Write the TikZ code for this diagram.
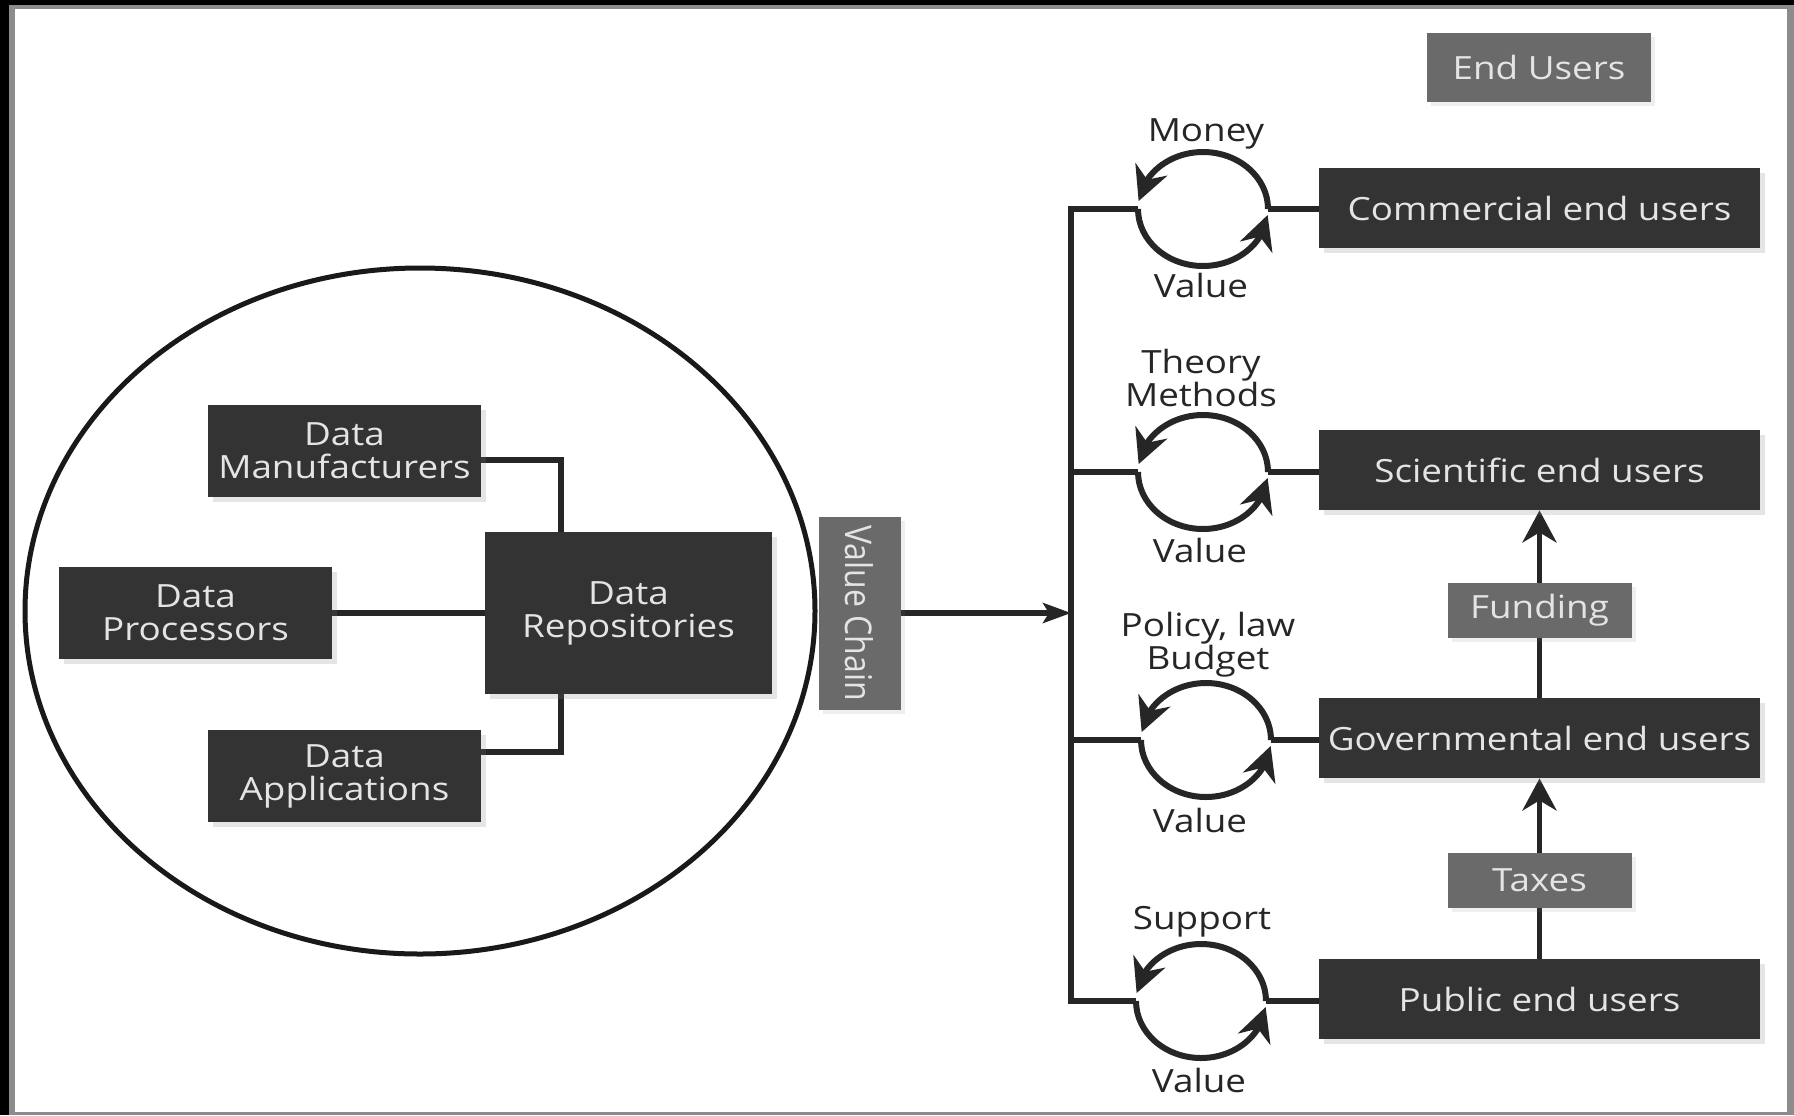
\documentclass[tikz,border=0pt]{standalone}
\usepackage{fontspec}
\usepackage{graphicx}
\setmainfont[FakeStretch=1.15]{Open Sans}
\newfontfamily\vcfont{Open Sans}
\usetikzlibrary{arrows.meta,bending,shadows,calc}
\definecolor{boxdark}{HTML}{333333}
\definecolor{boxgray}{HTML}{6A6A6A}
\definecolor{boxtext}{HTML}{E4E4E4}
\definecolor{ink}{HTML}{262626}
\definecolor{framegray}{HTML}{8C8C8C}
\pgfdeclarelayer{frame}
\pgfdeclarelayer{back}
\pgfsetlayers{frame,back,main}
\begin{document}
\begin{tikzpicture}[x=0.5pt,y=-0.5pt,
  font=\fontsize{16}{16.5}\selectfont,
  darkbox/.style={fill=boxdark,text=boxtext,inner sep=0pt,align=center,
    drop shadow={shadow xshift=2.5pt,shadow yshift=-2.5pt,opacity=0.2}},
  graybox/.style={fill=boxgray,text=boxtext,inner sep=0pt,align=center,
    drop shadow={shadow xshift=2pt,shadow yshift=-2pt,opacity=0.12}},
  leftbox/.style={darkbox,minimum width=136.5pt,minimum height=46pt},
  rightbox/.style={darkbox,minimum width=220.5pt,minimum height=40pt},
  flowbox/.style={graybox,minimum width=92pt,minimum height=27.5pt},
  lbl/.style={text=ink,inner sep=0pt,align=center},
  conn/.style={draw=ink,line width=2.6pt,line join=miter},
  arr/.style={conn,-{Stealth[length=16pt,width=17pt,inset=5pt]}},
  cyc/.style={draw=ink,line width=3pt,-{Stealth[length=17pt,width=17pt,inset=5.5pt]}}
]
\useasboundingbox (0,0) rectangle (1794,1115);
\begin{pgfonlayer}{frame}
  \fill[black] (0,0) rectangle (1794,1115);
  \fill[framegray] (9,5) rectangle (1794,1115);
  \fill[white] (15,9) rectangle (1787,1112);
\end{pgfonlayer}

% left cluster
\draw[line width=2.5pt,draw=black!90] (420,611) ellipse [x radius=395, y radius=343];
\node[leftbox] (man) at (344.5,451) {Data\\Manufacturers};
\node[leftbox] (pro) at (195.5,613) {Data\\Processors};
\node[darkbox,minimum width=143.5pt,minimum height=81pt] (rep) at (628.5,613) {Data\\Repositories};
\node[leftbox] (app) at (344.5,776) {Data\\Applications};
\node[graybox,minimum width=41pt,minimum height=96.5pt] (vc) at (859.5,613)
  {\rotatebox{-90}{\vcfont\scalebox{1}[1.15]{Value Chain}}};
\coordinate (jx) at (561,0);

% right column
\node[graybox,minimum width=112pt,minimum height=34.5pt] (eu) at (1539,67.5) {End Users};
\node[rightbox] (com) at (1539.5,208) {Commercial end users};
\node[rightbox] (sci) at (1539.5,470) {Scientific end users};
\node[rightbox] (gov) at (1539.5,738) {Governmental end users};
\node[rightbox] (pub) at (1539.5,999) {Public end users};
\node[flowbox] (fund) at (1539.5,610) {Funding};
\node[flowbox] (tax) at (1539.5,880.5) {Taxes};

% cycle centres and contact points
\coordinate (cy1) at (1203,209);
\coordinate (cy2) at (1203,472);
\coordinate (cy3) at (1206,740);
\coordinate (cy4) at (1201,1001);
\coordinate (l1) at (1138,209);  \coordinate (r1) at (1268,209);
\coordinate (l2) at (1138,472);  \coordinate (r2) at (1268,472);
\coordinate (l3) at (1141,740);  \coordinate (r3) at (1271,740);
\coordinate (l4) at (1136,1001); \coordinate (r4) at (1266,1001);
\coordinate (b1) at (1071,209);
\coordinate (b2) at (1071,472);
\coordinate (b3) at (1071,740);
\coordinate (b4) at (1071,1001);

% labels
\node[lbl] (m1) at (1206,134) {Money};
\node[lbl] (v1) at (1201,285) {Value};
\node[lbl] (m2) at (1201,378) {Theory\\Methods};
\node[lbl] (v2) at (1200,550) {Value};
\node[lbl] (m3) at (1208,645) {Policy, law\\Budget};
\node[lbl] (v3) at (1200,820) {Value};
\node[lbl] (m4) at (1202,922) {Support};
\node[lbl] (v4) at (1199,1080) {Value};

\foreach \c in {cy1,cy2,cy3,cy4}{
  \draw[cyc] (\c) ++(65,0) arc[start angle=0,end angle=-172,x radius=65,y radius=57];
  \draw[cyc] (\c) ++(-65,0) arc[start angle=180,end angle=6,x radius=65,y radius=57];
}

\begin{pgfonlayer}{back}
  \draw[conn] ([yshift=-4.5pt]man.east) -| (rep.north -| jx);
  \draw[conn] ([yshift=12pt]app.east) -| (rep.south -| jx);
  \draw[conn] (pro.east) -- (rep.west);
  \draw[conn,-{Stealth[length=14pt,width=10pt,inset=3pt]}] (vc.east) -- (vc.east -| b1);
  \draw[conn] (l1) -- (b1) -- (b4) -- (l4);
  \draw[conn] (b2) -- (l2);
  \draw[conn] (b3) -- (l3);
  \draw[conn] (r1) -- (r1 -| com.west);
  \draw[conn] (r2) -- (r2 -| sci.west);
  \draw[conn] (r3) -- (r3 -| gov.west);
  \draw[conn] (r4) -- (r4 -| pub.west);
  \draw[arr] (gov.north) -- (sci.south);
  \draw[arr] (pub.north) -- (gov.south);
\end{pgfonlayer}
\end{tikzpicture}
\end{document}
